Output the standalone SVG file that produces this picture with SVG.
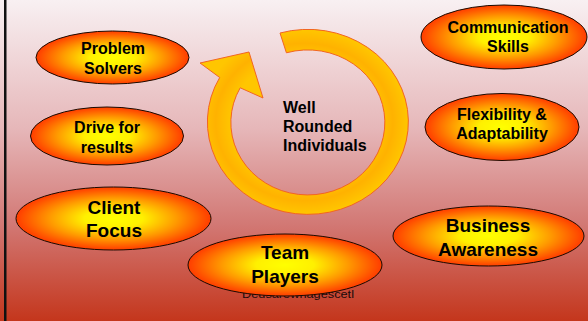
<svg xmlns="http://www.w3.org/2000/svg" width="588" height="321" viewBox="0 0 588 321">
  <defs>
    <linearGradient id="bg" x1="0" y1="0" x2="0" y2="1">
      <stop offset="0" stop-color="#f8f0f2"/>
      <stop offset="0.4" stop-color="#e6b7b9"/>
      <stop offset="0.7" stop-color="#d27874"/>
      <stop offset="1" stop-color="#c4361c"/>
    </linearGradient>
    <radialGradient id="glow" cx="0.5" cy="0.5" r="0.5">
      <stop offset="0" stop-color="#ffff00"/>
      <stop offset="0.3" stop-color="#fff000"/>
      <stop offset="0.65" stop-color="#ff9a00"/>
      <stop offset="1" stop-color="#ff3c00"/>
    </radialGradient>
    <radialGradient id="ring" cx="0.5" cy="0.5" r="0.5">
      <stop offset="0.7" stop-color="#ffc600"/>
      <stop offset="0.85" stop-color="#ffb200"/>
      <stop offset="1" stop-color="#ffc600"/>
    </radialGradient>
  </defs>
  <style>
    .oval { fill: url(#glow); stroke: #1a0a00; stroke-width: 1; }
    .lbl { font-family: "Liberation Sans", Arial, sans-serif; font-weight: bold; fill: #000; text-anchor: middle; }
    .s { font-size: 16px; }
    .l { font-size: 19px; }
    .hub { font-family: "Liberation Sans", Arial, sans-serif; font-weight: bold; font-size: 16px; fill: #000; }
    .foot { font-family: "Liberation Sans", Arial, sans-serif; font-size: 11px; fill: #1a0a0a; }
  </style>

  <!-- backdrop and left rule -->
  <rect x="0" y="0" width="588" height="321" fill="url(#bg)"/>
  <rect x="4" y="0" width="2.5" height="321" fill="#111"/>

  <!-- circular arrow around the hub -->
  <g id="cycle">
    <path d="M280,33 A100.5,92.5 0 1 1 219.7,77.5 L200,63 L249,52 L263,98 L240.2,87.8 A77,72.5 0 1 0 286.4,52.8 Z"
          fill="url(#ring)" stroke="#f26522" stroke-width="1"/>
    <text class="hub" x="283" y="113">Well</text>
    <text class="hub" x="283" y="132">Rounded</text>
    <text class="hub" x="283" y="151">Individuals</text>
  </g>

  <!-- footer text, partly hidden behind the bottom oval -->
  <text class="foot" x="242" y="298" textLength="112" lengthAdjust="spacingAndGlyphs">Deusarewhagescetl</text>

  <g id="problem-solvers">
    <ellipse class="oval" cx="112.5" cy="57.5" rx="76.5" ry="26.5"/>
    <text class="lbl s" x="113" y="54">Problem</text>
    <text class="lbl s" x="113" y="74">Solvers</text>
  </g>

  <g id="drive-for-results">
    <ellipse class="oval" cx="107" cy="136" rx="76.5" ry="29"/>
    <text class="lbl s" x="107" y="133">Drive for</text>
    <text class="lbl s" x="107" y="153">results</text>
  </g>

  <g id="client-focus">
    <ellipse class="oval" cx="113.5" cy="218.5" rx="97.5" ry="31.5"/>
    <text class="lbl l" x="114" y="214">Client</text>
    <text class="lbl l" x="114" y="237">Focus</text>
  </g>

  <g id="team-players">
    <ellipse class="oval" cx="285" cy="265" rx="97" ry="31"/>
    <text class="lbl l" x="285" y="259">Team</text>
    <text class="lbl l" x="285" y="283">Players</text>
  </g>

  <g id="business-awareness">
    <ellipse class="oval" cx="488.5" cy="236" rx="95.5" ry="30"/>
    <text class="lbl l" x="488" y="232">Business</text>
    <text class="lbl l" x="488" y="256">Awareness</text>
  </g>

  <g id="communication-skills">
    <ellipse class="oval" cx="504" cy="37" rx="83" ry="32"/>
    <text class="lbl s" x="508" y="33">Communication</text>
    <text class="lbl s" x="508" y="52">Skills</text>
  </g>

  <g id="flexibility-adaptability">
    <ellipse class="oval" cx="502" cy="127" rx="77" ry="33.5"/>
    <text class="lbl s" x="502" y="120">Flexibility &amp;</text>
    <text class="lbl s" x="502" y="139">Adaptability</text>
  </g>
</svg>
